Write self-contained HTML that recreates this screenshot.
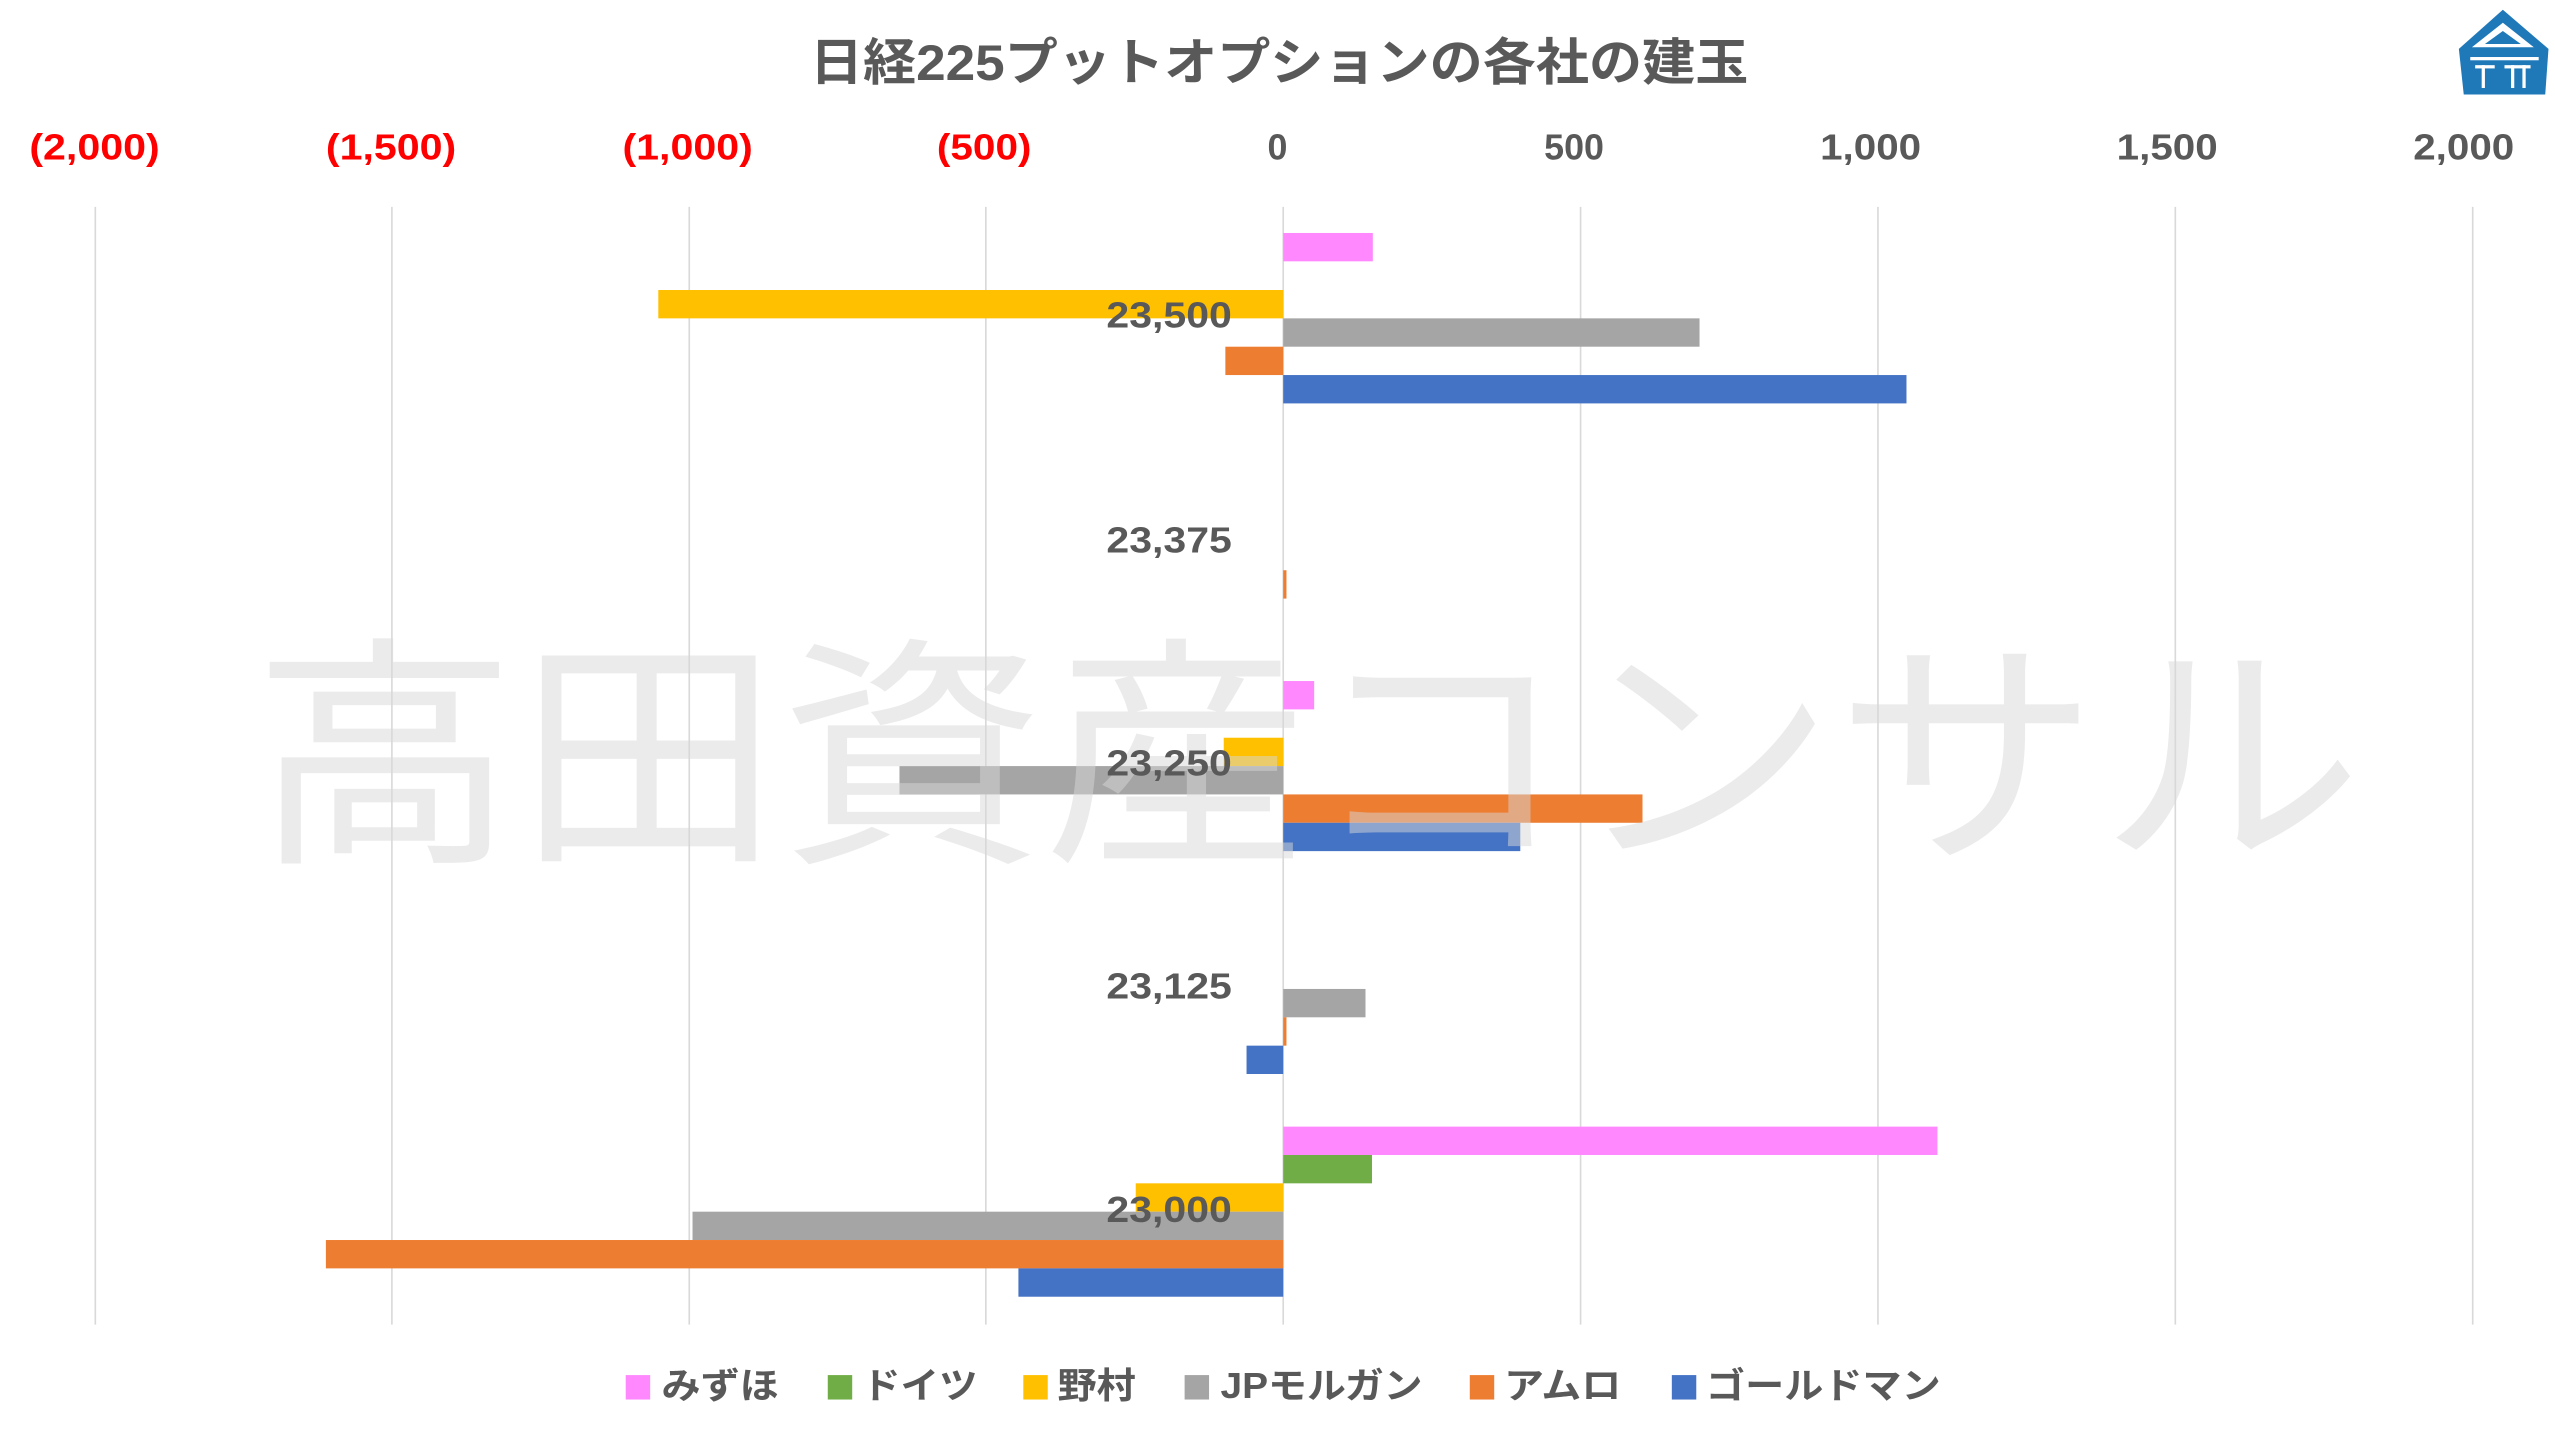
<!DOCTYPE html>
<html><head><meta charset="utf-8"><style>
html,body{margin:0;padding:0;background:#fff;}
svg{display:block;}
text{font-family:"Liberation Sans","Noto Sans CJK JP",sans-serif;}
</style></head><body>
<svg width="2555" height="1437" viewBox="0 0 1568 882" preserveAspectRatio="none" xmlns="http://www.w3.org/2000/svg">
<rect width="1568" height="882" fill="#fff"/>
<g stroke="#d9d9d9" stroke-width="1">
<line x1="58.5" y1="127" x2="58.5" y2="813"/><line x1="240.5" y1="127" x2="240.5" y2="813"/>
<line x1="423" y1="127" x2="423" y2="813"/><line x1="605" y1="127" x2="605" y2="813"/>
<line x1="787.5" y1="127" x2="787.5" y2="813"/><line x1="970" y1="127" x2="970" y2="813"/>
<line x1="1152.5" y1="127" x2="1152.5" y2="813"/><line x1="1335" y1="127" x2="1335" y2="813"/>
<line x1="1517.5" y1="127" x2="1517.5" y2="813"/>
</g>
<text x="497" y="49" font-size="31" font-weight="bold" fill="#595959" textLength="576" lengthAdjust="spacingAndGlyphs">日経225プットオプションの各社の建玉</text>
<g font-size="22" font-weight="bold" text-anchor="middle">
<text x="58" y="98" fill="#ff0000" textLength="80" lengthAdjust="spacingAndGlyphs">(2,000)</text><text x="240" y="98" fill="#ff0000" textLength="80" lengthAdjust="spacingAndGlyphs">(1,500)</text>
<text x="422" y="98" fill="#ff0000" textLength="80" lengthAdjust="spacingAndGlyphs">(1,000)</text><text x="604" y="98" fill="#ff0000" textLength="58" lengthAdjust="spacingAndGlyphs">(500)</text>
<text x="784" y="98" fill="#595959">0</text><text x="966" y="98" fill="#595959">500</text>
<text x="1148" y="98" fill="#595959" textLength="62" lengthAdjust="spacingAndGlyphs">1,000</text><text x="1330" y="98" fill="#595959" textLength="62" lengthAdjust="spacingAndGlyphs">1,500</text>
<text x="1512" y="98" fill="#595959" textLength="62" lengthAdjust="spacingAndGlyphs">2,000</text>
</g>
<g>
<rect x="787.5" y="143" width="55" height="17.4" fill="#ff88ff"/>
<rect x="404" y="178" width="383.5" height="17.4" fill="#ffc000"/>
<rect x="787.5" y="195.4" width="255.5" height="17.4" fill="#a5a5a5"/>
<rect x="752" y="212.8" width="35.5" height="17.4" fill="#ed7d31"/>
<rect x="787.5" y="230.2" width="382.5" height="17.4" fill="#4472c4"/>

<rect x="787.5" y="350" width="2" height="17.4" fill="#ed7d31"/>

<rect x="787.5" y="418" width="19" height="17.4" fill="#ff88ff"/>
<rect x="751" y="452.8" width="36.5" height="17.4" fill="#ffc000"/>
<rect x="552" y="470.2" width="235.5" height="17.4" fill="#a5a5a5"/>
<rect x="787.5" y="487.6" width="220.5" height="17.4" fill="#ed7d31"/>
<rect x="787.5" y="505" width="145.5" height="17.4" fill="#4472c4"/>

<rect x="787.5" y="607" width="50.5" height="17.4" fill="#a5a5a5"/>
<rect x="787.5" y="624.4" width="2" height="17.4" fill="#ed7d31"/>
<rect x="765" y="641.8" width="22.5" height="17.4" fill="#4472c4"/>

<rect x="787.5" y="691.5" width="401.5" height="17.4" fill="#ff88ff"/>
<rect x="787.5" y="708.9" width="54.5" height="17.4" fill="#70ad47"/>
<rect x="697" y="726.3" width="90.5" height="17.4" fill="#ffc000"/>
<rect x="425" y="743.7" width="362.5" height="17.4" fill="#a5a5a5"/>
<rect x="200" y="761.1" width="587.5" height="17.4" fill="#ed7d31"/>
<rect x="625" y="778.5" width="162.5" height="17.4" fill="#4472c4"/>
</g>
<text x="155" y="518" font-size="150" fill="#d8d8d8" fill-opacity="0.5" textLength="1295" lengthAdjust="spacingAndGlyphs">高田資産コンサル</text>
<g font-size="22" font-weight="bold" fill="#595959">
<text x="679" y="201" textLength="77" lengthAdjust="spacingAndGlyphs">23,500</text><text x="679" y="339" textLength="77" lengthAdjust="spacingAndGlyphs">23,375</text>
<text x="679" y="476" textLength="77" lengthAdjust="spacingAndGlyphs">23,250</text><text x="679" y="613" textLength="77" lengthAdjust="spacingAndGlyphs">23,125</text>
<text x="679" y="750" textLength="77" lengthAdjust="spacingAndGlyphs">23,000</text>
</g>
<g font-size="22" font-weight="bold" fill="#595959">
<rect x="384" y="844" width="15" height="15" fill="#ff88ff"/><text x="406" y="858" textLength="72" lengthAdjust="spacingAndGlyphs">みずほ</text>
<rect x="508" y="844" width="15" height="15" fill="#70ad47"/><text x="529" y="858" textLength="71" lengthAdjust="spacingAndGlyphs">ドイツ</text>
<rect x="628" y="844" width="15" height="15" fill="#ffc000"/><text x="649" y="858" textLength="48" lengthAdjust="spacingAndGlyphs">野村</text>
<rect x="727" y="844" width="15" height="15" fill="#a5a5a5"/><text x="749" y="858" textLength="124" lengthAdjust="spacingAndGlyphs">JPモルガン</text>
<rect x="902" y="844" width="15" height="15" fill="#ed7d31"/><text x="923" y="858" textLength="72" lengthAdjust="spacingAndGlyphs">アムロ</text>
<rect x="1026" y="844" width="15" height="15" fill="#4472c4"/><text x="1047" y="858" textLength="144" lengthAdjust="spacingAndGlyphs">ゴールドマン</text>
</g>
<g>
<polygon points="1536,6 1564,30 1562,58 1512,58 1509,30" fill="#1f78b8"/>
<polygon points="1536,14 1555,29 1517,29" fill="#fff"/>
<polygon points="1536,19 1547,27 1525,27" fill="#1f78b8"/>
<rect x="1516" y="35" width="42" height="2" fill="#fff"/>
<rect x="1519" y="40" width="12" height="2" fill="#fff"/>
<rect x="1523" y="40" width="2" height="14" fill="#fff"/>
<rect x="1537" y="40" width="16" height="2" fill="#fff"/>
<rect x="1541" y="40" width="2" height="14" fill="#fff"/>
<rect x="1548" y="40" width="2" height="14" fill="#fff"/>
</g>
</svg>
</body></html>
